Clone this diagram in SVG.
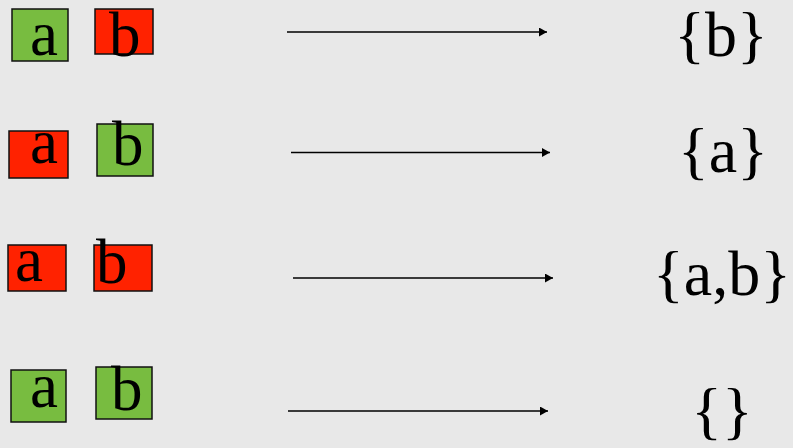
<svg xmlns="http://www.w3.org/2000/svg" width="793" height="448" viewBox="0 0 793 448">
<defs>
<style>
.g{fill:#78bc40;stroke:#111;stroke-width:1.5}
.r{fill:#ff2200;stroke:#111;stroke-width:1.5}
text{font-family:'Liberation Serif',serif;fill:#000}
.t{font-size:63px}
.s{font-size:64px;text-anchor:middle}
.c{stroke:#000;stroke-width:1.6;fill:none;marker-end:url(#ah)}
</style>
<marker id="ah" markerWidth="8" markerHeight="9" refX="8" refY="4.5" orient="auto" markerUnits="userSpaceOnUse">
<path d="M0,0 L8,4.5 L0,9 Z" fill="#000"/>
</marker>
</defs>
<rect width="793" height="448" fill="#e8e8e8"/>
<g id="row1-a"><rect class="g" x="12" y="9" width="56" height="52"/><text class="t" x="30" y="55">a</text></g>
<g id="row1-b"><rect class="r" x="95" y="9" width="58" height="45"/><text class="t" x="109" y="56">b</text></g>
<g id="row2-a"><rect class="r" x="9" y="131" width="59" height="47"/><text class="t" x="30" y="163">a</text></g>
<g id="row2-b"><rect class="g" x="97" y="124" width="56" height="52"/><text class="t" x="112" y="165">b</text></g>
<g id="row3-a"><rect class="r" x="8" y="245" width="58" height="46"/><text class="t" x="15" y="281">a</text></g>
<g id="row3-b"><rect class="r" x="94" y="245" width="58" height="46"/><text class="t" x="96" y="283">b</text></g>
<g id="row4-a"><rect class="g" x="11" y="370" width="55" height="52"/><text class="t" x="30" y="407">a</text></g>
<g id="row4-b"><rect class="g" x="96" y="367" width="56" height="52"/><text class="t" x="111" y="410">b</text></g>
<g id="res1"><text class="s" x="721" y="56">{b}</text></g>
<g id="res2"><text class="s" x="723" y="172">{a}</text></g>
<g id="res3"><text class="s" x="722" y="295">{a,b}</text></g>
<g id="res4"><text class="s" x="722" y="432">{}</text></g>
<g id="connectors">
<line class="c" x1="287" y1="32" x2="547" y2="32"/>
<line class="c" x1="291" y1="152.5" x2="550" y2="152.5"/>
<line class="c" x1="293" y1="278" x2="553" y2="278"/>
<line class="c" x1="288" y1="411" x2="548" y2="411"/>
</g>
</svg>
